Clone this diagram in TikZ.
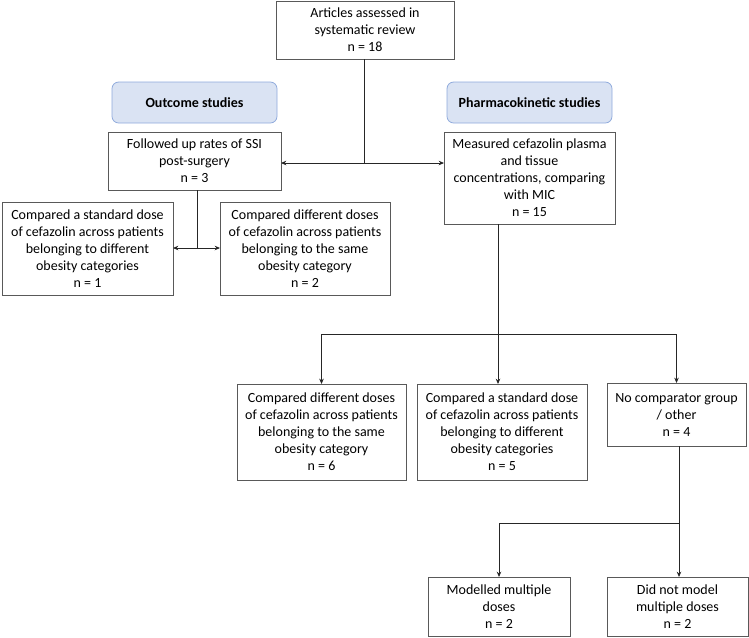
\documentclass[tikz,border=0pt]{standalone}
\usepackage{fontspec}
\setmainfont{Carlito}
\usetikzlibrary{arrows.meta}
\definecolor{headfill}{HTML}{DAE3F3}
\definecolor{headdraw}{HTML}{8FAADC}

\begin{document}
\begin{tikzpicture}[x=0.75pt,y=-0.75pt,>={Stealth[length=4pt,width=3.4pt]},
  main node/.style={draw=black!65,line width=0.6pt,fill=white,align=center,inner sep=2pt,
    outer sep=0pt,font=\fontsize{10.5}{12.75}\selectfont},
  head node/.style={main node,draw=headdraw,fill=headfill,rounded corners=5pt,
    font=\fontsize{10.5}{12.75}\selectfont\bfseries},
  link/.style={draw=black!85,line width=0.6pt}]

  \useasboundingbox (0,0) rectangle (749,637);

  \node[main node,minimum width=133.5pt,minimum height=43.5pt] (1) at (365,30)
    {Articles assessed in\\systematic review\\n = 18};
  \node[head node,minimum width=123.75pt,minimum height=30.75pt] (2) at (194.5,102.5) {Outcome studies};
  \node[head node,minimum width=123.75pt,minimum height=30.75pt] (3) at (529.5,102.5) {Pharmacokinetic studies};

  \node[main node,minimum width=129.75pt,minimum height=43.5pt] (4) at (194.5,161)
    {Followed up rates of SSI\\post-surgery\\n = 3};
  \node[main node,minimum width=128.25pt,minimum height=69pt] (5) at (529.5,178)
    {Measured cefazolin plasma\\and tissue\\concentrations, comparing\\with MIC\\n = 15};

  \node[main node,minimum width=128.25pt,minimum height=69.75pt] (6) at (87.5,248.5)
    {Compared a standard dose\\of cefazolin across patients\\belonging to different\\obesity categories\\n = 1};
  \node[main node,minimum width=127.5pt,minimum height=69.75pt] (7) at (305,248.5)
    {Compared different doses\\of cefazolin across patients\\belonging to the same\\obesity category\\n = 2};

  \node[main node,minimum width=126.75pt,minimum height=72pt] (8) at (321.5,432)
    {Compared different doses\\of cefazolin across patients\\belonging to the same\\obesity category\\n = 6};
  \node[main node,minimum width=127.5pt,minimum height=72pt] (9) at (502,432)
    {Compared a standard dose\\of cefazolin across patients\\belonging to different\\obesity categories\\n = 5};
  \node[main node,minimum width=104.25pt,minimum height=47.25pt] (10) at (676.5,414.5)
    {No comparator group\\/ other\\n = 4};

  \node[main node,minimum width=106.5pt,minimum height=44.25pt] (11) at (499,606.5)
    {Modelled multiple\\doses\\n = 2};
  \node[main node,minimum width=105.75pt,minimum height=44.25pt] (12) at (677.5,606.5)
    {Did not model\\multiple doses\\n = 2};

  \coordinate (a) at (364,163);
  \coordinate (b) at (197,248);
  \coordinate (c) at (498,334);
  \coordinate (d) at (679,523);

  \draw[link] (1.south -| a) -- (a);
  \draw[link,<->] (a -| 4.east) -- (a -| 5.west);

  \draw[link] (4.south -| b) -- (b);
  \draw[link,<->] (b -| 6.east) -- (b -| 7.west);

  \draw[link] (5.south -| c) -- (c);
  \draw[link] (c -| 8.north) -- (c -| 10.north);
  \draw[link,->] (c -| 8.north) -- (8.north);
  \draw[link,->] (c) -- (c |- 9.north);
  \draw[link,->] (c -| 10.north) -- (10.north);

  \draw[link] (10.south -| d) -- (d) -- (d -| 11.north);
  \draw[link,->] (d -| 11.north) -- (11.north);
  \draw[link,->] (d) -- (d |- 12.north);
  %\draw[link,->] (2) -- (4);

\end{tikzpicture}
\end{document}
